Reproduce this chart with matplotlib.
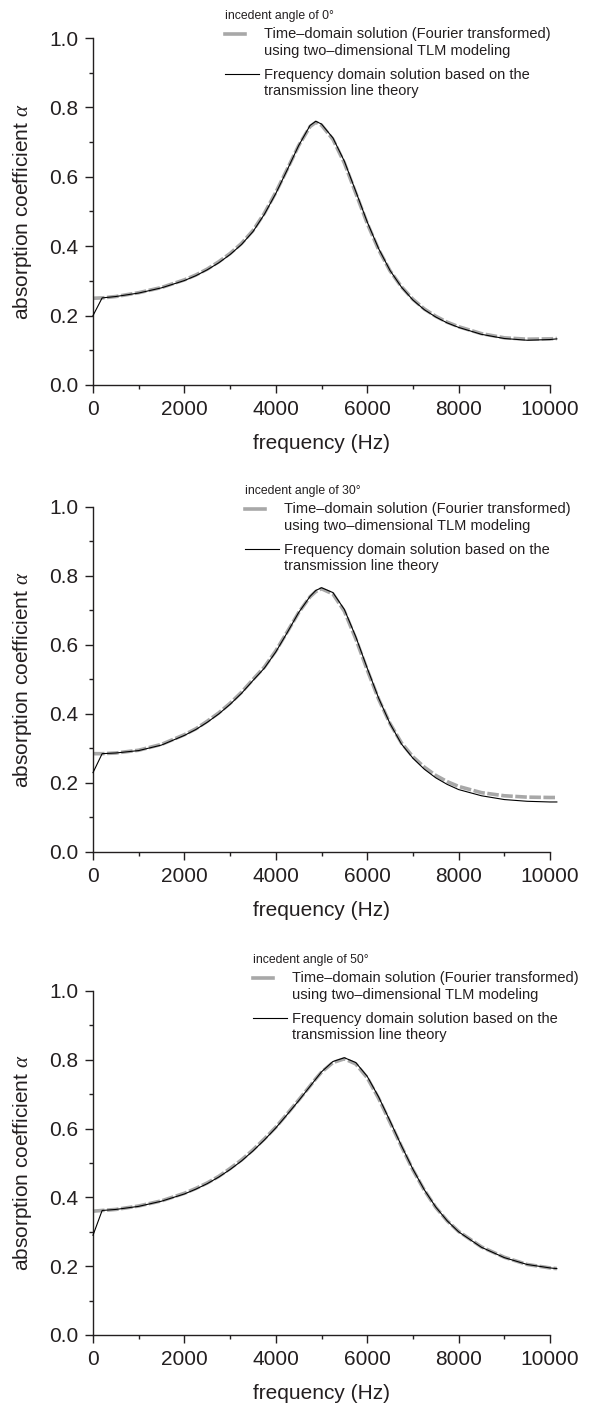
import numpy as np
import matplotlib.pyplot as plt
from matplotlib.ticker import MultipleLocator
from matplotlib.legend_handler import HandlerLine2D

plt.rcParams["font.family"] = ["Liberation Sans", "DejaVu Sans"]
plt.rcParams["mathtext.fontset"] = "custom"
plt.rcParams["mathtext.it"] = "Liberation Serif:italic"

TEXT = "#231f20"

# ---- data ----
angles = [0, 30, 50]

freq = [0, 200, 500, 1000, 1500, 2000, 2250, 2500, 2750, 3000, 3250, 3500,
        3750, 4000, 4250, 4500, 4750, 4875, 5000, 5250, 5500, 5750, 6000,
        6250, 6500, 6750, 7000, 7250, 7500, 7750, 8000, 8500, 9000, 9500,
        10000, 10150]

# frequency domain solution (transmission line theory), black line
alpha_tl_0 = [0.200, 0.251, 0.255, 0.265, 0.280, 0.301, 0.315, 0.332, 0.352,
              0.376, 0.405, 0.442, 0.492, 0.552, 0.620, 0.690, 0.748, 0.760,
              0.752, 0.712, 0.645, 0.558, 0.470, 0.393, 0.330, 0.282, 0.245,
              0.217, 0.196, 0.179, 0.166, 0.146, 0.134, 0.129, 0.131, 0.133]
alpha_tl_30 = [0.230, 0.285, 0.287, 0.294, 0.310, 0.338, 0.355, 0.376, 0.400,
               0.428, 0.460, 0.497, 0.533, 0.580, 0.636, 0.694, 0.741, 0.758,
               0.766, 0.752, 0.703, 0.624, 0.533, 0.446, 0.372, 0.313, 0.272,
               0.240, 0.215, 0.196, 0.181, 0.163, 0.152, 0.147, 0.145, 0.145]
alpha_tl_50 = [0.290, 0.362, 0.365, 0.374, 0.389, 0.410, 0.424, 0.440, 0.459,
               0.481, 0.506, 0.535, 0.567, 0.602, 0.641, 0.681, 0.723, 0.744,
               0.765, 0.795, 0.806, 0.792, 0.752, 0.692, 0.622, 0.550, 0.482,
               0.422, 0.372, 0.332, 0.300, 0.255, 0.225, 0.205, 0.195, 0.193]

# time-domain solution (TLM, Fourier transformed), grey dashed line
alpha_tlm_0 = [0.250, 0.251, 0.255, 0.266, 0.281, 0.303, 0.317, 0.334, 0.355,
               0.379, 0.408, 0.445, 0.495, 0.555, 0.622, 0.690, 0.745, 0.757,
               0.749, 0.708, 0.640, 0.553, 0.466, 0.390, 0.329, 0.283, 0.247,
               0.219, 0.198, 0.181, 0.168, 0.148, 0.136, 0.132, 0.133, 0.134]
alpha_tlm_30 = [0.285, 0.285, 0.287, 0.295, 0.312, 0.340, 0.357, 0.379, 0.403,
                0.431, 0.463, 0.500, 0.536, 0.583, 0.638, 0.694, 0.740, 0.755,
                0.763, 0.748, 0.698, 0.618, 0.528, 0.443, 0.372, 0.316, 0.276,
                0.246, 0.222, 0.204, 0.190, 0.172, 0.163, 0.159, 0.158, 0.158]
alpha_tlm_50 = [0.360, 0.362, 0.365, 0.375, 0.390, 0.412, 0.426, 0.442, 0.461,
                0.484, 0.509, 0.538, 0.570, 0.604, 0.643, 0.683, 0.724, 0.745,
                0.764, 0.792, 0.803, 0.788, 0.748, 0.688, 0.618, 0.548, 0.480,
                0.421, 0.371, 0.332, 0.301, 0.256, 0.226, 0.205, 0.195, 0.193]

alpha_tl = [alpha_tl_0, alpha_tl_30, alpha_tl_50]
alpha_tlm = [alpha_tlm_0, alpha_tlm_30, alpha_tlm_50]

lab_tlm = "Time\u2013domain solution (Fourier transformed)\nusing two\u2013dimensional TLM modeling"
lab_tl = "Frequency domain solution based on the\ntransmission line theory"


class FirstLineHandler(HandlerLine2D):
    """legend line drawn level with the first text line, optionally shorter"""

    def __init__(self, frac=1.0, shift=0.62, **kw):
        super().__init__(**kw)
        self.frac = frac
        self.shift = shift

    def create_artists(self, legend, orig_handle, xdescent, ydescent,
                       width, height, fontsize, trans):
        arts = super().create_artists(legend, orig_handle, xdescent, ydescent,
                                      width, height, fontsize, trans)
        for a in arts:
            x = np.asarray(a.get_xdata(), float)
            y = np.asarray(a.get_ydata(), float)
            a.set_xdata(x[0] + (x - x[0]) * self.frac)
            a.set_ydata(y + self.shift * fontsize)
            a.set_linestyle("-")
        return arts


# axes boxes in figure pixels: (bottom, height) and legend anchor (x, y from top)
W, H = 596, 1404
boxes = [(385, 347), (852, 345), (1335, 344)]
legend_pos = [(225, 10), (245, 485), (253, 954)]

fig = plt.figure(figsize=(W / 100, H / 100), dpi=100)

for i, ang in enumerate(angles):
    yb, hgt = boxes[i]
    ax = fig.add_axes([93 / W, 1 - yb / H, 457 / W, hgt / H])

    l1, = ax.plot(freq, alpha_tlm[i], color="#a8a8a8", lw=2.6,
                  dashes=(3.2, 0.7), clip_on=False, label=lab_tlm, zorder=2)
    l2, = ax.plot(freq, alpha_tl[i], color="black", lw=0.8,
                  clip_on=False, label=lab_tl, zorder=3)

    ax.set_xlim(0, 10000)
    ax.set_ylim(0, 1.0)
    ax.xaxis.set_major_locator(MultipleLocator(2000))
    ax.xaxis.set_minor_locator(MultipleLocator(1000))
    ax.yaxis.set_major_locator(MultipleLocator(0.2))
    ax.yaxis.set_minor_locator(MultipleLocator(0.1))
    ax.yaxis.set_major_formatter(lambda v, p: f"{v:.1f}")

    for s in ["top", "right"]:
        ax.spines[s].set_visible(False)
    for s in ["left", "bottom"]:
        ax.spines[s].set_linewidth(1.0)
        ax.spines[s].set_color(TEXT)

    ax.tick_params(which="major", direction="out", length=5.5, width=1.0,
                   labelsize=15, colors=TEXT, pad=5)
    ax.tick_params(which="minor", direction="out", length=3, width=1.0,
                   colors=TEXT)

    ax.set_xlabel("frequency (Hz)", fontsize=15, color=TEXT, labelpad=11)
    ax.set_ylabel("absorption coefficient $\\alpha$", fontsize=15,
                  color=TEXT, labelpad=11)

    lx, ly = legend_pos[i]
    leg = ax.legend(handles=[l1, l2], loc="upper left",
                    bbox_to_anchor=(lx / W, 1 - ly / H),
                    bbox_transform=fig.transFigure, frameon=False,
                    title=f"incedent angle of {ang}\u00b0", alignment="left",
                    fontsize=10.5, title_fontsize=8.8, handlelength=2.3,
                    handletextpad=0.35, borderpad=0, borderaxespad=0,
                    labelspacing=0.68,
                    handler_map={l1: FirstLineHandler(frac=0.6),
                                 l2: FirstLineHandler(frac=1.0)})
    # gap between the title and the first entry
    leg._legend_box.sep = 3.6
    for t in leg.get_texts():
        t.set_color(TEXT)
        t.set_linespacing(1.25)
    leg.get_title().set_color(TEXT)

fig.savefig("out.png", dpi=100)
